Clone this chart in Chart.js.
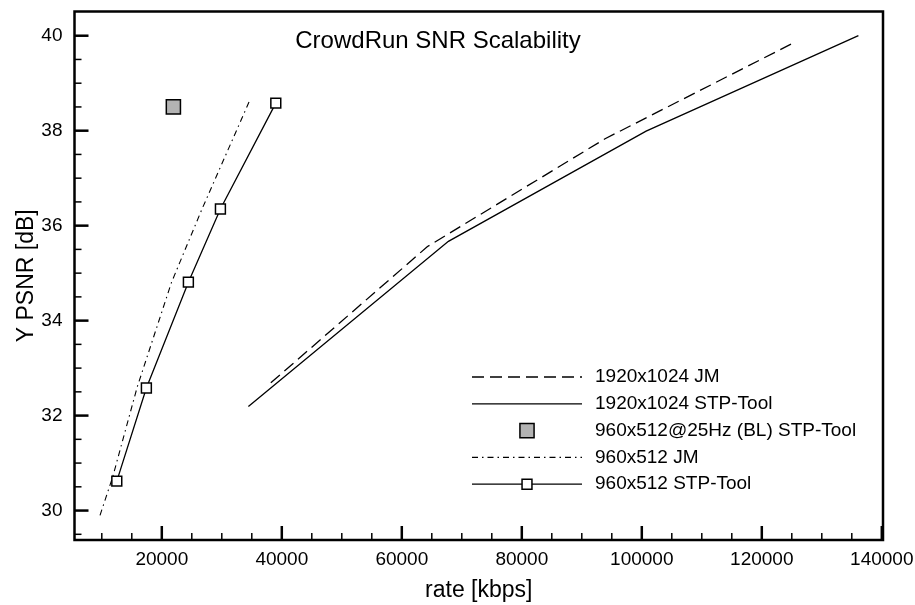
<!DOCTYPE html>
<html>
<head>
<meta charset="utf-8">
<script src="https://cdn.jsdelivr.net/npm/chart.js@4.4.0/dist/chart.umd.min.js"></script>
<style>
  html, body { margin: 0; padding: 0; background: #fff; }
</style>
</head>
<body>
<canvas id="snrChart" width="915" height="605"></canvas>
<script>
// series: rate in kbps, PSNR in dB
const jm1920Rate = [38170, 64280, 93880, 125600];
const jm1920Psnr = [32.69, 35.56, 37.83, 39.87];
const stp1920Rate = [34430, 67770, 100720, 136100];
const stp1920Psnr = [32.19, 35.67, 37.99, 40.0];
const blRate = [21930];
const blPsnr = [38.5];
const jm960Rate = [9700, 11800, 15900, 21600, 26700, 34700];
const jm960Psnr = [29.9, 30.7, 32.6, 34.8, 36.35, 38.65];
const stp960Rate = [12500, 17430, 24430, 29770, 39000];
const stp960Psnr = [30.62, 32.58, 34.81, 36.35, 38.58];

const seriesLabels = ["1920x1024 JM", "1920x1024 STP-Tool", "960x512@25Hz (BL) STP-Tool", "960x512 JM", "960x512 STP-Tool"];
const xTicks = [20000, 40000, 60000, 80000, 100000, 120000, 140000];
const yTicks = [30, 32, 34, 36, 38, 40];

const FONT = '"Liberation Sans", Arial, Helvetica, sans-serif';
const toPoints = (xs, ys) => xs.map((x, i) => ({ x: x, y: ys[i] }));

const lineBase = { showLine: true, tension: 0, borderColor: "#000", borderWidth: 1.3, pointRadius: 0, pointHoverRadius: 0, fill: false };

// frame, inside ticks and title
const framePlugin = {
  id: "frame",
  afterDraw(chart) {
    const { ctx, chartArea: a, scales: { x, y } } = chart;
    ctx.save();
    ctx.strokeStyle = "#000";
    // minor + major ticks on x
    for (let v = 10000; v <= 140000; v += 5000) {
      const px = x.getPixelForValue(v);
      const major = xTicks.includes(v);
      ctx.lineWidth = major ? 2.5 : 1.5;
      ctx.beginPath();
      ctx.moveTo(px, a.bottom);
      ctx.lineTo(px, a.bottom - (major ? 14 : 7));
      ctx.stroke();
    }
    for (let v = 29.5; v <= 40.01; v += 0.5) {
      const py = y.getPixelForValue(v);
      const major = yTicks.includes(v);
      ctx.lineWidth = major ? 2.5 : 1.5;
      ctx.beginPath();
      ctx.moveTo(a.left, py);
      ctx.lineTo(a.left + (major ? 14 : 7), py);
      ctx.stroke();
    }
    ctx.lineWidth = 2.5;
    ctx.strokeRect(a.left, a.top, a.right - a.left, a.bottom - a.top);

    ctx.fillStyle = "#000";
    ctx.font = "24px " + FONT;
    ctx.textAlign = "center";
    ctx.textBaseline = "alphabetic";
    ctx.fillText("CrowdRun SNR Scalability", 438, 48);
    ctx.restore();
  }
};

// legend drawn inside the plot, using each dataset's own style
const legendPlugin = {
  id: "innerLegend",
  afterDraw(chart) {
    const ctx = chart.ctx;
    const x0 = 472, x1 = 582, tx = 595, y0 = 377, step = 26.8;
    chart.data.datasets.forEach((ds, i) => {
      const yy = y0 + i * step;
      ctx.save();
      if (ds.showLine) {
        ctx.strokeStyle = ds.borderColor;
        ctx.lineWidth = ds.borderWidth;
        ctx.setLineDash(ds.borderDash || []);
        ctx.beginPath();
        ctx.moveTo(x0, yy);
        ctx.lineTo(x1, yy);
        ctx.stroke();
        ctx.setLineDash([]);
      }
      if (ds.pointRadius > 0) {
        ctx.fillStyle = ds.pointBackgroundColor;
        ctx.strokeStyle = ds.pointBorderColor;
        ctx.lineWidth = ds.pointBorderWidth;
        Chart.helpers.drawPoint(ctx, { pointStyle: ds.pointStyle, radius: ds.pointRadius, borderWidth: ds.pointBorderWidth, rotation: 0 }, (x0 + x1) / 2, yy);
      }
      ctx.fillStyle = "#000";
      ctx.font = "19px " + FONT;
      ctx.textAlign = "left";
      ctx.textBaseline = "middle";
      ctx.fillText(ds.label, tx, yy);
      ctx.restore();
    });
  }
};

new Chart(document.getElementById("snrChart"), {
  type: "scatter",
  data: {
    datasets: [
      Object.assign({}, lineBase, { label: seriesLabels[0], data: toPoints(jm1920Rate, jm1920Psnr), borderDash: [12, 6] }),
      Object.assign({}, lineBase, { label: seriesLabels[1], data: toPoints(stp1920Rate, stp1920Psnr) }),
      { label: seriesLabels[2], data: toPoints(blRate, blPsnr), showLine: false, pointStyle: "rect", pointRadius: 10,
        pointHoverRadius: 10, pointBackgroundColor: "#b3b3b3", pointBorderColor: "#000", pointBorderWidth: 1.5 },
      Object.assign({}, lineBase, { label: seriesLabels[3], data: toPoints(jm960Rate, jm960Psnr), borderWidth: 1.1, borderDash: [6, 4, 1.5, 4] }),
      Object.assign({}, lineBase, { label: seriesLabels[4], data: toPoints(stp960Rate, stp960Psnr), pointStyle: "rect", pointRadius: 7,
        pointHoverRadius: 7, pointBackgroundColor: "#fff", pointBorderColor: "#000", pointBorderWidth: 1.5 })
    ]
  },
  options: {
    responsive: false,
    animation: false,
    layout: { padding: { top: 6, right: 32, left: 0, bottom: 0 } },
    plugins: { legend: { display: false }, tooltip: { enabled: false } },
    scales: {
      x: {
        type: "linear", min: 5450, max: 140200,
        afterBuildTicks: s => { s.ticks = xTicks.map(v => ({ value: v })); },
        afterFit: s => { s.height = 65; s.paddingLeft = 0; s.paddingRight = 0; },
        grid: { display: false, drawTicks: false },
        border: { display: false },
        ticks: { color: "#000", padding: 8, autoSkip: false, maxRotation: 0, font: { family: FONT, size: 19 }, callback: v => String(v) },
        title: { display: true, text: "rate [kbps]", color: "#000", font: { family: FONT, size: 23, lineHeight: 1.2 }, padding: { top: 0, bottom: 1 } }
      },
      y: {
        type: "linear", min: 29.38, max: 40.51,
        afterBuildTicks: s => { s.ticks = yTicks.map(v => ({ value: v })); },
        afterFit: s => { s.width = 74.5; s.paddingTop = 0; s.paddingBottom = 0; },
        grid: { display: false, drawTicks: false },
        border: { display: false },
        ticks: { color: "#000", padding: 12, autoSkip: false, font: { family: FONT, size: 19 }, callback: v => String(v) },
        title: { display: true, text: "Y PSNR [dB]", color: "#000", font: { family: FONT, size: 23, lineHeight: 1.2 }, padding: { top: 13, bottom: 0 } }
      }
    }
  },
  plugins: [framePlugin, legendPlugin]
});
</script>
</body>
</html>
